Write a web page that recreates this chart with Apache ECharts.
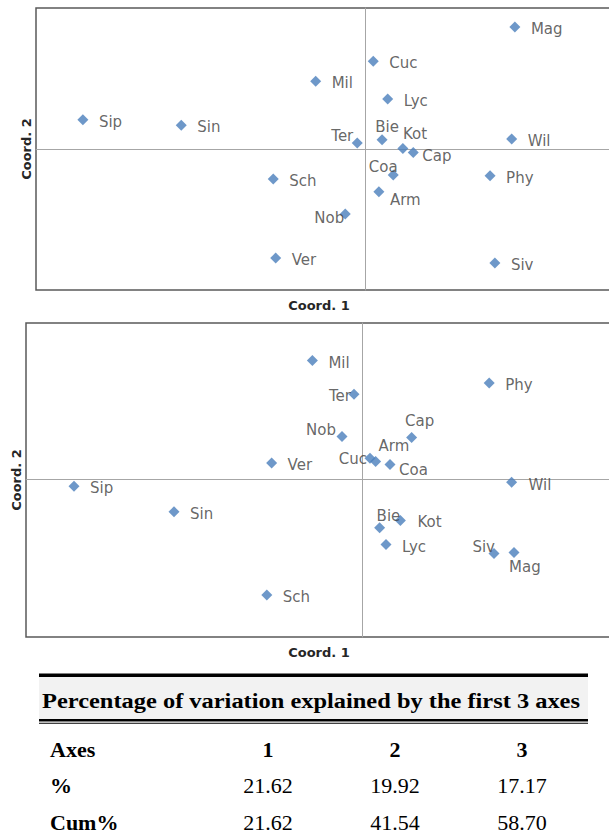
<!DOCTYPE html>
<html>
<head>
<meta charset="utf-8">
<script src="https://cdn.jsdelivr.net/npm/echarts@6/dist/echarts.min.js"></script>
<style>
html,body{margin:0;padding:0;background:#fff;}
#c{width:609px;height:840px;}
</style>
</head>
<body>
<div id="c"></div>
<script>
// ---- data ----
const species = ['Sip','Sin','Mil','Cuc','Lyc','Ter','Bie','Kot','Cap','Coa','Arm','Sch','Nob','Ver','Mag','Wil','Phy','Siv'];
// top plot: Coord.1 vs Coord.2
const topCoord1 = [-0.353,-0.230,-0.062,0.010,0.028,-0.010,0.021,0.047,0.060,0.035,0.017,-0.115,-0.025,-0.112,0.187,0.183,0.156,0.162];
const topCoord2 = [0.037,0.030,0.085,0.110,0.063,0.008,0.012,0.001,-0.004,-0.032,-0.053,-0.037,-0.081,-0.136,0.153,0.013,-0.033,-0.142];
// bottom plot
const botCoord1 = [-0.360,-0.235,-0.062,0.010,0.030,-0.010,0.022,0.048,0.062,0.035,0.017,-0.119,-0.025,-0.113,0.190,0.187,0.159,0.165];
const botCoord2 = [-0.009,-0.041,0.148,0.026,-0.082,0.106,-0.061,-0.052,0.052,0.018,0.022,-0.145,0.053,0.020,-0.092,-0.004,0.120,-0.093];
// table
const tableTitle = 'Percentage of variation explained by the first 3 axes';
const axesLabels = ['1','2','3'];
const pctValues = ['21.62','19.92','17.17'];
const cumValues = ['21.62','41.54','58.70'];

// ---- label placement (style) ----
const defLabel = ['left', 16, 2];
const topLabelPos = {
  Ter:['right',-4,-7], Bie:['center',5,-13], Kot:['left',0,-14], Cap:['left',9,4],
  Coa:['center',-10,-8], Arm:['left',11,8], Nob:['right',-1,4]
};
const botLabelPos = {
  Ter:['right',-3,2], Nob:['right',-6,-7], Cap:['center',8,-16], Arm:['left',3,-15],
  Cuc:['right',-3,1], Coa:['left',9,5], Bie:['left',-3,-12], Siv:['right',1,-6],
  Mag:['left',-5,14], Kot:['left',17,1], Wil:['left',17,3]
};

const SYM = 11;
function buildData(xs, ys, posMap){
  return species.map((n,i)=>{
    const p = posMap[n] || defLabel;
    return {
      name:n, value:[xs[i], ys[i]],
      label:{position:[SYM/2 + p[1], SYM/2 + p[2]], align:p[0], verticalAlign:'middle'}
    };
  });
}

const chart = echarts.init(document.getElementById('c'), null, {renderer:'svg'});

const labelStyle = {show:true, formatter:'{b}', color:'#404040', fontSize:15, fontFamily:'DejaVu Sans'};
const axisLine = {show:true, onZero:true, lineStyle:{color:'#a6a6a6', width:1}};
function mkX(idx,min,max){return {gridIndex:idx,type:'value',min:min,max:max,axisLine:axisLine,axisTick:{show:false},axisLabel:{show:false},splitLine:{show:false}};}
function mkY(idx,min,max){return {gridIndex:idx,type:'value',min:min,max:max,axisLine:axisLine,axisTick:{show:false},axisLabel:{show:false},splitLine:{show:false}};}

const serif = '"Liberation Serif","Times New Roman",serif';
const tCols = [268, 395, 522];
const titleFont = 'bold 13px "DejaVu Sans"';
const graphics = [
  {type:'text', x:26, y:149, rotation:Math.PI/2, style:{text:'Coord. 2', font:titleFont, fill:'#262626', align:'center', verticalAlign:'middle'}},
  {type:'text', x:16, y:480, rotation:Math.PI/2, style:{text:'Coord. 2', font:titleFont, fill:'#262626', align:'center', verticalAlign:'middle'}},
  {type:'text', x:319, y:305, style:{text:'Coord. 1', font:titleFont, fill:'#262626', align:'center', verticalAlign:'middle'}},
  {type:'text', x:319, y:652, style:{text:'Coord. 1', font:titleFont, fill:'#262626', align:'center', verticalAlign:'middle'}},
  {type:'rect', shape:{x:39, y:677, width:549, height:42}, style:{fill:'#f2f2f2'}},
  {type:'rect', shape:{x:39, y:673.5, width:549, height:3.5}, style:{fill:'#000'}},
  {type:'rect', shape:{x:39, y:719, width:549, height:2.5}, style:{fill:'#000'}},
  {type:'rect', shape:{x:39, y:722.8, width:549, height:1}, style:{fill:'#000'}},
  {type:'text', x:311, y:700, scaleX:1.11, style:{text:tableTitle, font:'bold 22px '+serif, fill:'#000', align:'center', verticalAlign:'middle'}},
  {type:'text', x:50, y:749, style:{text:'Axes', font:'bold 22px '+serif, fill:'#000', align:'left', verticalAlign:'middle'}},
  {type:'text', x:50, y:785, style:{text:'%', font:'bold 22px '+serif, fill:'#000', align:'left', verticalAlign:'middle'}},
  {type:'text', x:50, y:822, style:{text:'Cum%', font:'bold 22px '+serif, fill:'#000', align:'left', verticalAlign:'middle'}}
];
axesLabels.forEach((t,i)=>graphics.push({type:'text', x:tCols[i], y:749, style:{text:t, font:'bold 22px '+serif, fill:'#000', align:'center', verticalAlign:'middle'}}));
pctValues.forEach((t,i)=>graphics.push({type:'text', x:tCols[i], y:785, style:{text:t, font:'22px '+serif, fill:'#000', align:'center', verticalAlign:'middle'}}));
cumValues.forEach((t,i)=>graphics.push({type:'text', x:tCols[i], y:822, style:{text:t, font:'22px '+serif, fill:'#000', align:'center', verticalAlign:'middle'}}));

chart.setOption({
  animation:false,
  backgroundColor:'#fff',
  grid:[
    {left:36, top:8, width:576, height:282, show:true, borderColor:'#595959', borderWidth:1.5, backgroundColor:'transparent', outerBoundsMode:'none', containLabel:false},
    {left:26, top:323, width:586, height:314, show:true, borderColor:'#595959', borderWidth:1.5, backgroundColor:'transparent', outerBoundsMode:'none', containLabel:false}
  ],
  xAxis:[mkX(0,-0.4116,0.3084), mkX(1,-0.42,0.3125)],
  yAxis:[mkY(0,-0.1759,0.1766), mkY(1,-0.1975,0.195)],
  series:[
    {type:'scatter', xAxisIndex:0, yAxisIndex:0, symbol:'diamond', symbolSize:SYM, itemStyle:{color:'#4A7EBB'}, label:labelStyle, data:buildData(topCoord1, topCoord2, topLabelPos)},
    {type:'scatter', xAxisIndex:1, yAxisIndex:1, symbol:'diamond', symbolSize:SYM, itemStyle:{color:'#4A7EBB'}, label:labelStyle, data:buildData(botCoord1, botCoord2, botLabelPos)}
  ],
  graphic:graphics
});
</script>
</body>
</html>
